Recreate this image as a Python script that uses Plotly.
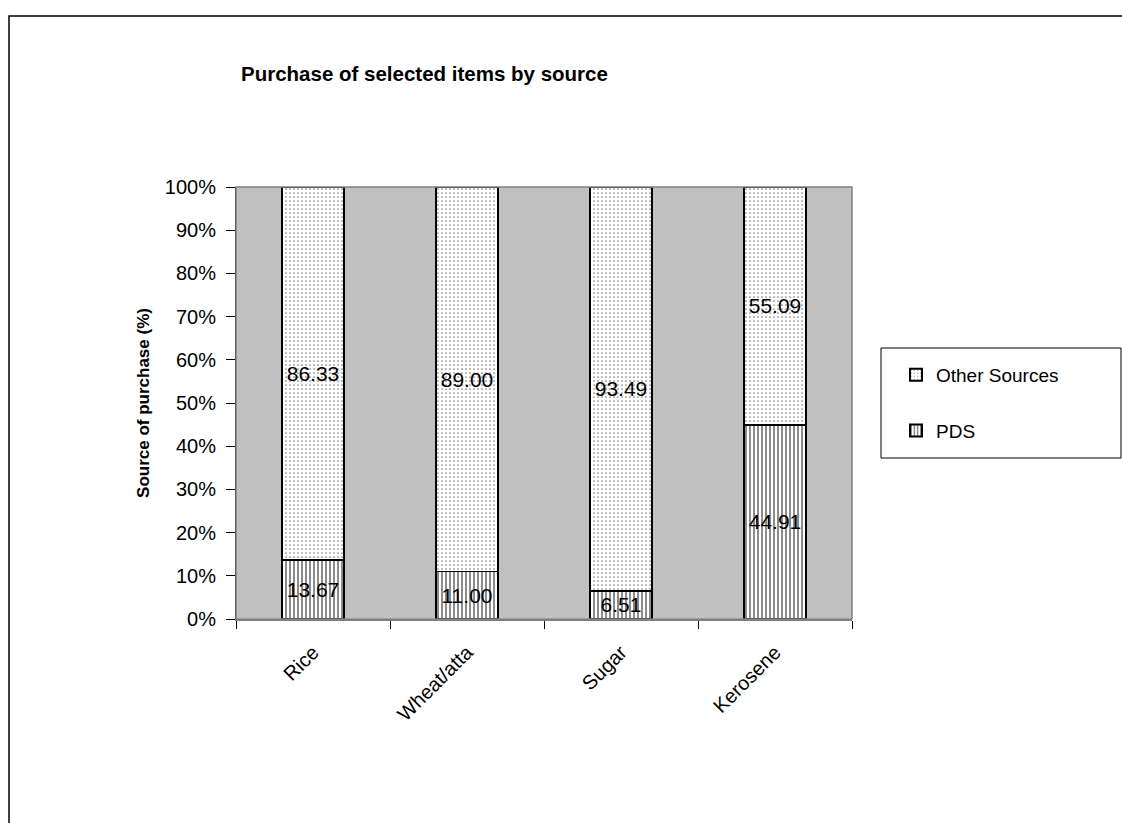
import plotly.graph_objects as go

# Share of purchases by source for each item (%)
items = ["Rice", "Wheat/atta", "Sugar", "Kerosene"]
pds = [13.67, 11.00, 6.51, 44.91]
other_sources = [86.33, 89.00, 93.49, 55.09]
y_ticks = [0, 10, 20, 30, 40, 50, 60, 70, 80, 90, 100]
y_tick_labels = [f"{v}%" for v in y_ticks]

FONT = "Liberation Sans, Arial, sans-serif"

# Plot-area pixel box, used to place the frame and legend box in paper units
PL, PR, PT, PB = 236, 852, 187, 619
def px_x(x):
    return (x - PL) / (PR - PL)
def px_y(y):
    return (PB - y) / (PB - PT)

fig = go.Figure()

fig.add_trace(go.Bar(
    x=items, y=pds, name="PDS",
    text=[f"{v:.2f}" for v in pds],
    textposition="inside", insidetextanchor="middle", constraintext="none",
    textfont=dict(family=FONT, size=21, color="black"),
    marker=dict(
        color="white",
        line=dict(color="black", width=2),
        pattern=dict(shape="|", fgcolor="black", bgcolor="white", size=4, solidity=0.45),
    ),
    width=0.4, legendgroup="pds", legendrank=2,
))
fig.add_trace(go.Bar(
    x=items, y=other_sources, name="Other Sources",
    text=[f"{v:.2f}" for v in other_sources],
    textposition="inside", insidetextanchor="middle", constraintext="none",
    textfont=dict(family=FONT, size=21, color="black"),
    marker=dict(
        color="white",
        line=dict(color="black", width=1.5),
        pattern=dict(shape=".", fgcolor="black", bgcolor="white", size=4, solidity=0.15),
    ),
    width=0.4, legendgroup="other", legendrank=1,
))

fig.update_layout(
    width=1122, height=823,
    barmode="stack",
    paper_bgcolor="white",
    plot_bgcolor="#C0C0C0",
    margin=dict(l=PL, r=1122 - PR, t=PT, b=823 - PB),
    font=dict(family=FONT, color="black"),
    title=dict(
        text="<b>Purchase of selected items by source</b>",
        font=dict(family=FONT, size=20.5, color="black"),
        x=241 / 1122, xanchor="left", y=1 - 74 / 823, yanchor="middle",
    ),
    showlegend=True,
    legend=dict(
        x=px_x(896), y=px_y(356),
        xanchor="left", yanchor="top",
        bgcolor="rgba(0,0,0,0)", borderwidth=0,
        font=dict(family=FONT, size=19, color="black"),
        traceorder="grouped", tracegroupgap=28,
        itemsizing="constant",
    ),
    xaxis=dict(
        showgrid=False, showline=True, linecolor="#808080", linewidth=1.5,
        ticks="outside", tickson="boundaries", ticklen=8, tickcolor="black",
        tickangle=-45, ticklabelstandoff=12,
        tickfont=dict(family=FONT, size=20, color="black"),
    ),
    yaxis=dict(
        range=[0, 100],
        tickvals=y_ticks, ticktext=y_tick_labels,
        showgrid=False, showline=True, linecolor="black", linewidth=1,
        ticks="outside", ticklen=9, tickcolor="black", ticklabelstandoff=6,
        tickfont=dict(family=FONT, size=20, color="black"),
        title=dict(text="<b>Source of purchase (%)</b>",
                   font=dict(family=FONT, size=17, color="black"), standoff=10),
    ),
)

# Grey frame round the plot area
fig.add_shape(type="rect", xref="paper", yref="paper", x0=0, x1=1, y0=0, y1=1,
              line=dict(color="#808080", width=1.5), layer="above")
# Legend box
fig.add_shape(type="rect", xref="paper", yref="paper",
              x0=px_x(881), x1=px_x(1121), y0=px_y(458), y1=px_y(348),
              line=dict(color="black", width=1), fillcolor="white", layer="below")
# Outer chart frame (extends past the right and bottom edges)
fig.add_shape(type="rect", xref="paper", yref="paper",
              x0=px_x(9), x1=px_x(1130), y0=px_y(830), y1=px_y(16),
              line=dict(color="black", width=1.5))

fig.write_html("out.html")
